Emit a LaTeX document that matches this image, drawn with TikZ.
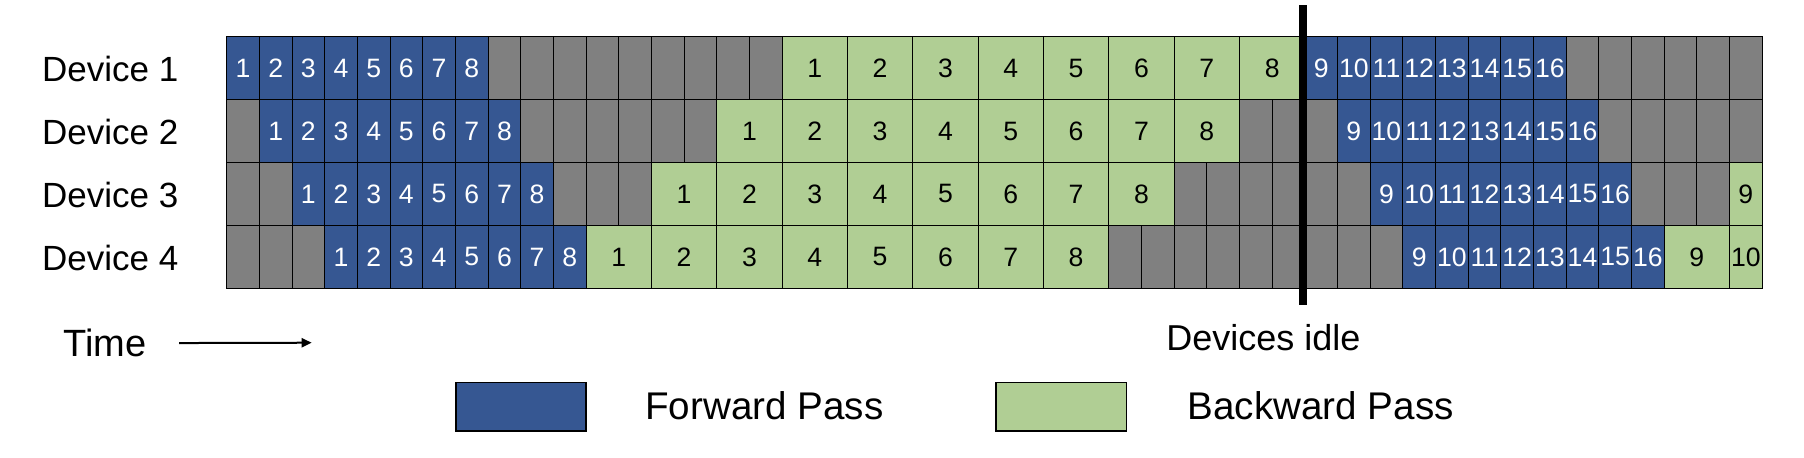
\documentclass[tikz,border=0pt]{standalone}
\usepackage{fontspec}
\setmainfont{Liberation Sans}
\usetikzlibrary{arrows.meta}

\definecolor{fwdblue}{RGB}{54,87,146}
\definecolor{bwdgreen}{RGB}{176,206,148}
\definecolor{idlegray}{RGB}{128,128,128}

\tikzset{
	cell/.style={draw=black, line width=0.5pt, inner sep=0pt, outer sep=0pt, anchor=north west, minimum height=31.45pt, font=\fontsize{13.3}{14}\selectfont},
	idlecell/.style={cell, fill=idlegray, minimum width=16.335pt},
	fwdcell/.style={cell, fill=fwdblue, text=white, minimum width=16.335pt},
	bwdcell/.style={cell, fill=bwdgreen, text=black, minimum width=32.67pt},
	devname/.style={anchor=base west, inner sep=0pt, font=\fontsize{17.5}{20}\selectfont},
	keybox/.style={draw=black, line width=0.8pt, minimum width=65.15pt, minimum height=24.35pt, inner sep=0pt},
	keytext/.style={anchor=base west, inner sep=0pt, font=\fontsize{19.3}{22}\selectfont},
}

\begin{document}
\begin{tikzpicture}[x=0.5pt,y=0.5pt,yscale=-1,xscale=1]
	\useasboundingbox (0,0) rectangle (1804,457);

	\foreach \d [evaluate=\d as \k using \d-1] in {1,...,4} {
		\node[devname] (dev\d) at (41.7,{81.7+\k*62.9}) {Device \d};
		\foreach \t in {0,...,46}
			\node[idlecell] (d\d-i\t) at ({226.7+\t*32.67},{36.7+\k*62.9}) {};
		\foreach \i in {1,...,8}
			\node[fwdcell] (d\d-f\i) at ({226.7+(\k+\i-1)*32.67},{36.7+\k*62.9}) {\i};
		\foreach \i in {1,...,8}
			\node[bwdcell] (d\d-b\i) at ({226.7+(17-2*\k+2*(\i-1))*32.67},{36.7+\k*62.9}) {\i};
		\foreach \i in {9,...,16}
			\node[fwdcell] (d\d-f\i) at ({226.7+(24+\k+\i)*32.67},{36.7+\k*62.9}) {\i};
	}
	\node[bwdcell, minimum width=16.335pt] (d3-b9) at ({226.7+46*32.67},{36.7+2*62.9}) {9};
	\node[bwdcell] (d4-b9) at ({226.7+44*32.67},{36.7+3*62.9}) {9};
	\node[bwdcell, minimum width=16.335pt] (d4-b10) at ({226.7+46*32.67},{36.7+3*62.9}) {10};

	\coordinate (cut top) at (1302.5,5);
	\coordinate (cut bot) at (1302.5,305);
	\draw[line width=4pt] (cut top) -- (cut bot);
	\node[anchor=base west, inner sep=0pt, font=\fontsize{18}{20}\selectfont] (idle note) at (1166,350.7) {Devices idle};

	\node[anchor=base west, inner sep=0pt, font=\fontsize{19}{22}\selectfont] (time) at (63.3,356.7) {Time};
	\coordinate (time end) at (311.7,342.7);
	\draw[line width=1pt, -{Triangle[length=5pt,width=4.5pt]}, shorten <=16pt] (time.east) -- (time end);

	\node[keybox, fill=fwdblue] (fwd key) at (520.85,406.65) {};
	\node[keytext] (fwd text) at (645,419.3) {Forward Pass};
	\node[keybox, fill=bwdgreen] (bwd key) at (1061.2,406.65) {};
	\node[keytext] (bwd text) at (1187.3,419.3) {Backward Pass};
\end{tikzpicture}
\end{document}
